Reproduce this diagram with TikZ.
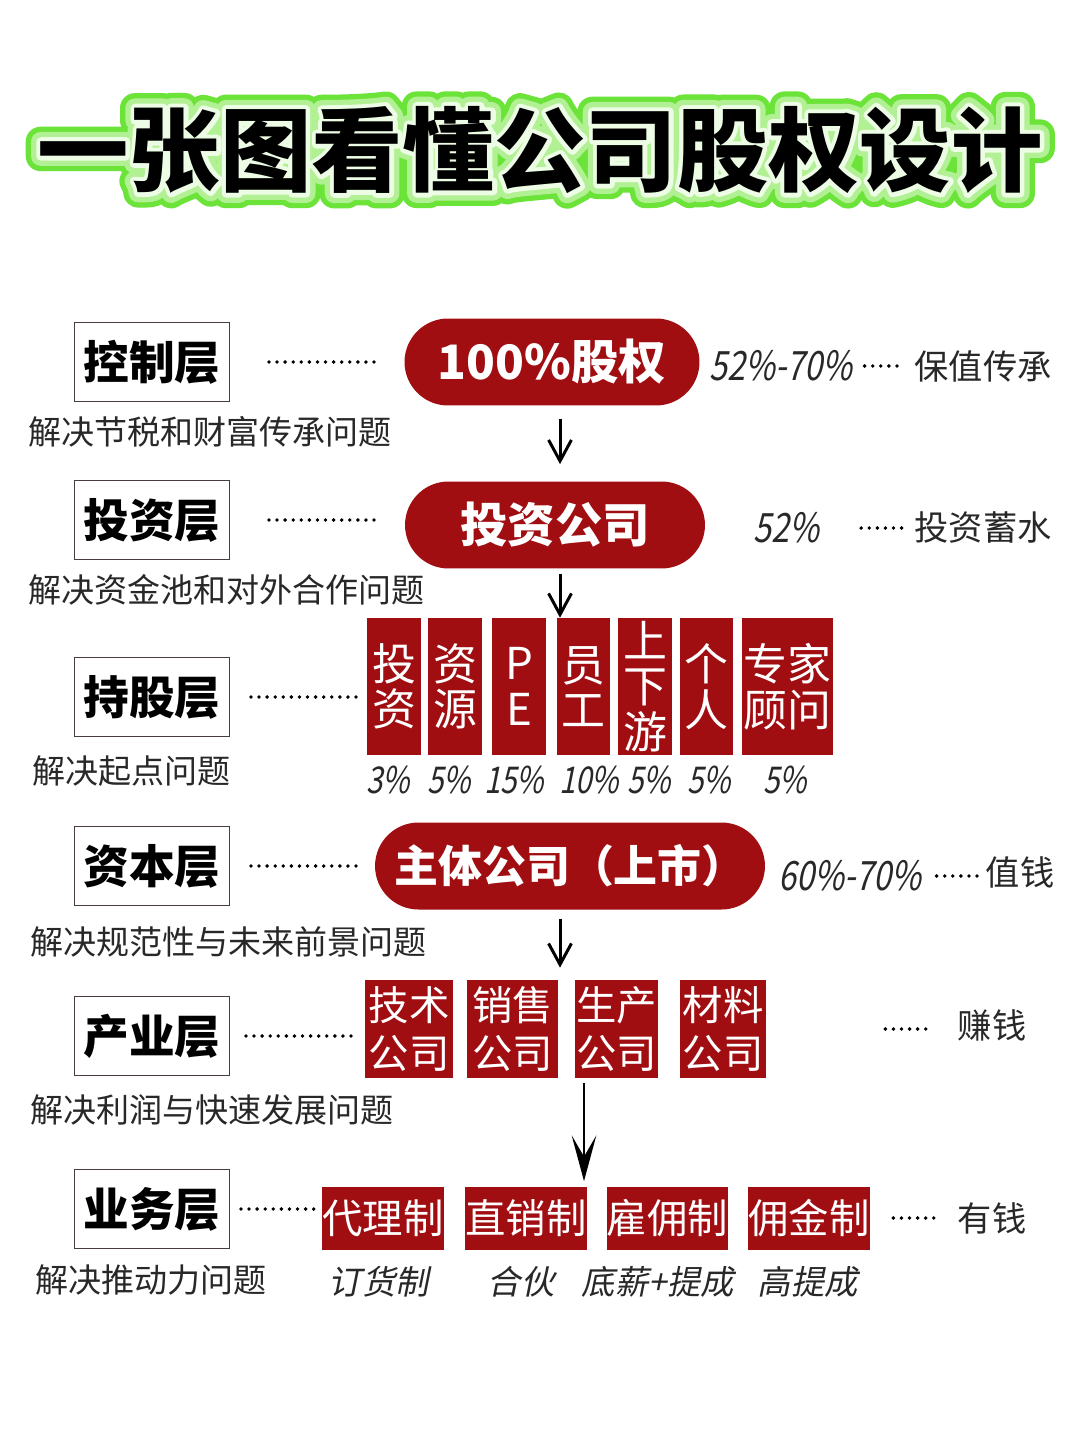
\documentclass[tikz,border=0pt]{standalone}
\usepackage{fontspec}
\setmainfont{Noto Sans CJK SC}
\newfontfamily\slfont{Noto Sans CJK SC}[FakeSlant=0.2]
\newfontfamily\pctfont{Noto Sans CJK SC}[FakeSlant=0.2,FakeStretch=0.8]
\usetikzlibrary{arrows.meta}
\definecolor{deepred}{RGB}{160,14,18}
\definecolor{inkgray}{RGB}{40,40,40}
\definecolor{framegray}{RGB}{75,60,60}
\newcommand{\strokeit}[3]{\special{pdf:literal direct 1 Tr #1 w 1 j 1 J #2 RG}#3\special{pdf:literal direct 0 Tr}}
\newcommand{\headline}{一张图看懂公司股权设计}

\begin{document}
\begin{tikzpicture}[x=0.02cm, y=-0.02cm,
    title/.style={font=\fontsize{52}{56}\selectfont\bfseries, inner sep=0},
    layer/.style={draw=framegray, line width=1.1pt, fill=white, minimum width=3.1cm, minimum height=1.58cm, inner sep=0, font=\fontsize{26}{28}\selectfont\bfseries},
    sub/.style={anchor=west, inner sep=0, text=inkgray, font=\fontsize{18.8}{20}\selectfont},
    pill/.style={fill=deepred, text=white, minimum height=1.74cm, rounded corners=0.87cm, inner sep=0, font=\fontsize{27}{30}\selectfont\bfseries},
    redbox/.style={fill=deepred, text=white, inner sep=0, align=center},
    pct/.style={inner sep=0, text=inkgray, font=\fontsize{23}{25}\pctfont},
    note/.style={inner sep=0, text=inkgray, font=\fontsize{19.5}{22}\selectfont},
    dotline/.style={line width=2.2pt, line cap=round, dash pattern=on 0pt off 4.6pt},
    arr/.style={line width=1.7pt, -{Straight Barb[length=12pt, width=13pt]}},
    bigarr/.style={line width=1.5pt, -{Stealth[length=26pt, width=14pt, inset=12pt]}}]
    \useasboundingbox (0,0) rectangle (1080,1440);
    \fill[white] (0,0) rectangle (1080,1440);

    \node[title] (head) at (540,150) {\rlap{\strokeit{17}{0.42 0.89 0.22}{\headline}}\rlap{\strokeit{11}{0.70 0.94 0.58}{\headline}}\rlap{\strokeit{5}{0.93 0.99 0.90}{\headline}}\headline};

    \foreach \name/\y/\ltext/\sx/\sy/\stext in {ctl/362/控制层/28/432/解决节税和财富传承问题,
        invl/520/投资层/28/590/解决资金池和对外合作问题,
        holdl/697/持股层/32/771/解决起点问题,
        capl/866/资本层/30/942/解决规范性与未来前景问题,
        indl/1036/产业层/30/1110/解决利润与快速发展问题,
        bizl/1209/业务层/35/1280/解决推动力问题}
    {
        \node[layer] (\name) at (152,\y) {\ltext};
        \node[sub] (\name-s) at (\sx,\sy) {\stext};
    }

    \node[pill, minimum width=5.9cm] (equity) at (552,362) {100\%股权};
    \node[pill, minimum width=6cm] (invco) at (555,525) {投资公司};
    \node[pill, minimum width=7.8cm, font=\fontsize{25}{28}\selectfont\bfseries] (mainco) at (570,866) {主体公司（上市）};

    \foreach \n/\x/\w/\htext in {1/394/54/投\\资, 2/455/54/资\\源, 3/519/54/P\\E, 4/583.5/53/员\\工,
        5/645/54/上\\下\\游, 6/706.5/53/个\\人, 7/787.5/91/专家\\顾问}
    {
        \node[redbox, minimum width=\w*0.02cm, minimum height=2.74cm, font=\fontsize{25}{26}\selectfont] (h\n) at (\x,686.5) {\htext};
    }
    \foreach \n/\x/\ptext in {1/388/3, 2/449/5, 3/514/15, 4/589/10, 5/649/5, 6/709/5, 7/785/5}
    {
        \node[pct, font=\fontsize{21}{23}\pctfont] (p\n) at (\x,780) {\ptext\%};
    }

    \foreach \n/\x/\w/\mtext in {1/409/88/技术, 2/512.5/91/销售, 3/616.5/83/生产, 4/723/86/材料}
    {
        \node[redbox, minimum width=\w*0.02cm, minimum height=1.96cm, font=\fontsize{23}{27}\selectfont] (m\n) at (\x,1029) {\mtext\\公司};
    }

    \foreach \n/\x/\btext/\bx/\ntext in {1/383/代理制/379/订货制, 2/526/直销制/521/合伙,
        3/667.5/雇佣制/658/底薪+提成, 4/809/佣金制/808/高提成}
    {
        \node[redbox, minimum width=2.44cm, minimum height=1.26cm, font=\fontsize{23}{25}\selectfont] (b\n) at (\x,1218) {\btext};
        \node[note, font=\fontsize{19}{21}\slfont] (b\n-n) at (\bx,1282) {\ntext};
    }

    \node[pct] (r1) at (781,366) {52\%-70\%};
    \node[note] (r1-d) at (983,366) {保值传承};
    \node[pct] (r2) at (786,528) {52\%};
    \node[note] (r2-d) at (983,527) {投资蓄水};
    \node[pct] (r3) at (850,876) {60\%-70\%};
    \node[note] (r3-d) at (1020,872) {值钱};
    \node[note] (r5-d) at (992,1025) {赚钱};
    \node[note] (r6-d) at (992,1218) {有钱};

    \draw[dotline, shorten <=0.77cm, shorten >=0.55cm] (ctl.east) -- (ctl.east -| equity.west);
    \draw[dotline, shorten <=0.77cm, shorten >=0.55cm] (invl.east) -- (invl.east -| invco.west);
    \draw[dotline, shorten <=0.41cm, shorten >=0.18cm] (holdl.east) -- (holdl.east -| h1.west);
    \draw[dotline, shorten <=0.41cm, shorten >=0.34cm] (capl.east) -- (capl.east -| mainco.west);
    \draw[dotline, shorten <=0.31cm, shorten >=0.2cm] (indl.east) -- (indl.east -| m1.west);
    \draw[dotline, shorten <=0.21cm, shorten >=0.14cm] (bizl.east) -- (bizl.east -| b1.west);

    \draw[dotline, shorten <=0.24cm, shorten >=0.26cm] (r1.east) -- (r1.east -| r1-d.west);
    \draw[dotline, shorten <=0.84cm, shorten >=0.2cm] (r2.east) -- (r2.east -| r2-d.west);
    \draw[dotline, shorten <=0.3cm, shorten >=0.16cm] (r3.east) -- (r3.east -| r3-d.west);
    \draw[dotline, shorten <=2.38cm, shorten >=0.56cm] (m4.east) -- (m4.east -| r5-d.west);
    \draw[dotline, shorten <=0.46cm, shorten >=0.4cm] (b4.east) -- (b4.east -| r6-d.west);

    \coordinate (axis) at (560,0);
    \coordinate (axis2) at (584,0);
    \draw[arr, shorten <=0.26cm, shorten >=0.34cm] (equity.south -| axis) -- (invco.north -| axis);
    \draw[arr, shorten <=0.1cm] (invco.south -| axis) -- (h4.north -| axis);
    \draw[arr, shorten <=0.18cm, shorten >=0.24cm] (mainco.south -| axis) -- (m1.north -| axis);
    \draw[bigarr, shorten <=0.1cm, shorten >=0.1cm] (m3.south -| axis2) -- (b2.north -| axis2);
\end{tikzpicture}
\end{document}
